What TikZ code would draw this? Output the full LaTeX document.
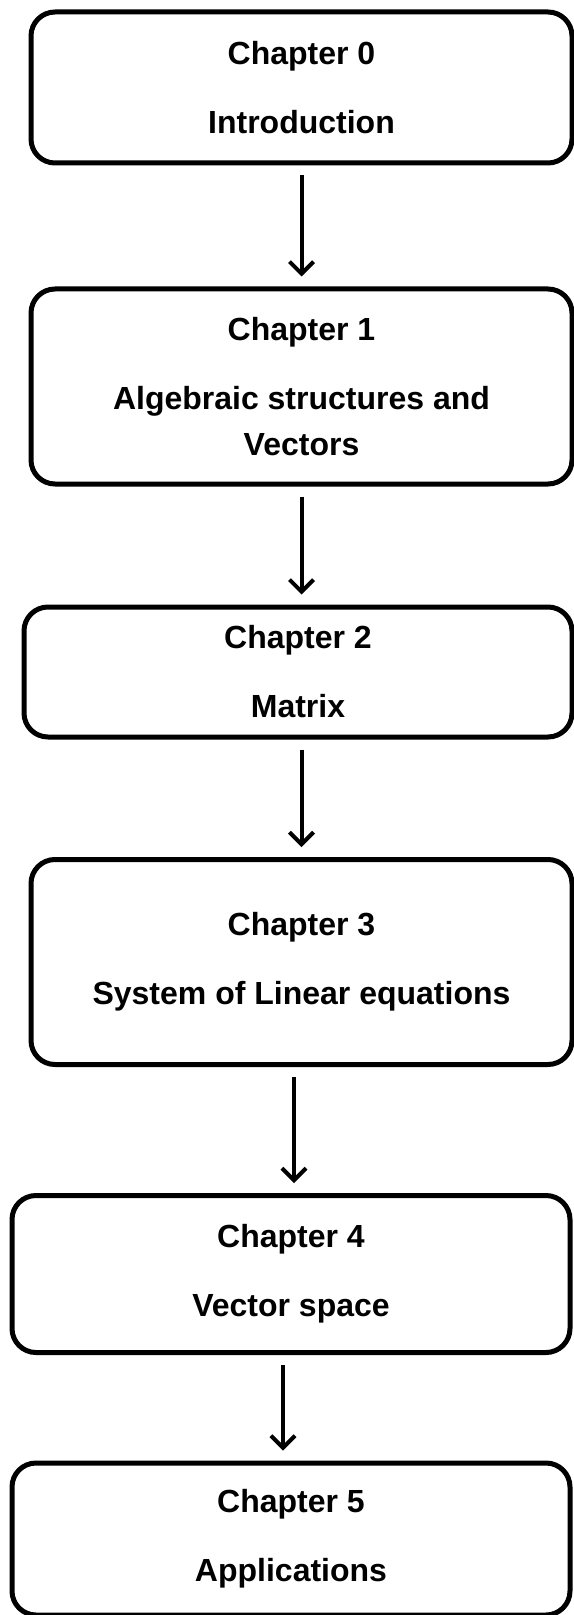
\documentclass[tikz,border=0pt]{standalone}
\usepackage{fontspec}
\setmainfont{Liberation Sans}
\usetikzlibrary{positioning, arrows.meta}

\begin{document}
\begin{tikzpicture}[node distance=145pt,on grid,
    chapbox/.style={draw,line width=2.5pt,rounded corners=12pt,align=center,inner sep=0pt,
      font=\bfseries\fontsize{16pt}{23pt}\selectfont},
    flow/.style={-{Straight Barb[length=6pt,width=12pt]},line width=2pt,shorten <=5pt,shorten >=5pt}]
  \useasboundingbox (0,0) rectangle (286.5pt,-807.5pt);
  \node[chapbox,minimum width=270.5pt,minimum height=75.5pt] (c0) at (150.75pt,-43.75pt) {Chapter 0\\[11.5pt]Introduction};
  \node[chapbox,minimum width=270.5pt,minimum height=97.5pt] (c1) [below=149.5pt of c0] {Chapter 1\\[11.5pt]Algebraic structures and\\Vectors};
  \node[chapbox,minimum width=274pt,minimum height=65pt] (c2) [below=142.75pt of c1,xshift=-1.75pt] {Chapter 2\\[11.5pt]Matrix};
  \node[chapbox,minimum width=270.5pt,minimum height=102.5pt] (c3) [below=of c2,xshift=1.75pt] {Chapter 3\\[11.5pt]System of Linear equations};
  \node[chapbox,minimum width=279pt,minimum height=78.5pt] (c4) [below=156pt of c3,xshift=-5.25pt] {Chapter 4\\[11.5pt]Vector space};
  \node[chapbox,minimum width=279pt,minimum height=76pt] (c5) [below=132.5pt of c4] {Chapter 5\\[11.5pt]Applications};
  \coordinate (a3) at ([xshift=-3.75pt]c3.south);
  \coordinate (a4) at ([xshift=-4pt]c4.south);
  \path[flow]
    (c0.south) edge (c1.north)
    (c1.south) edge (c1.south |- c2.north)
    (c2.south -| c1.south) edge (c1.south |- c3.north)
    (a3) edge (a3 |- c4.north)
    (a4) edge (a4 |- c5.north);
\end{tikzpicture}
\end{document}
